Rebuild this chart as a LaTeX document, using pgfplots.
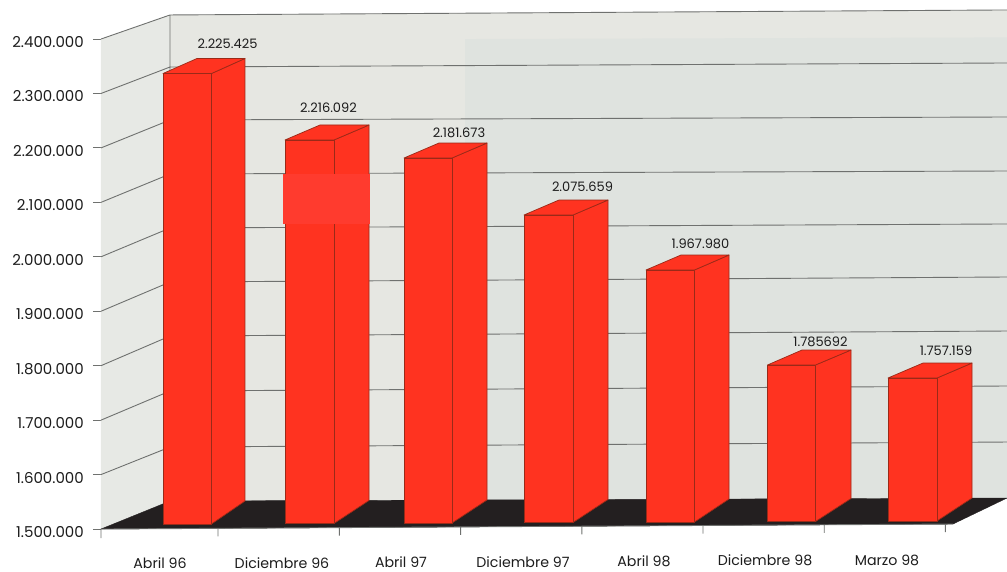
\documentclass[border=0pt]{standalone}
\usepackage{pgfplots}
\pgfplotsset{compat=1.18}
\usepackage{fontspec}
\setmainfont{Poppins}
\definecolor{wallside}{HTML}{E7E9E5}
\definecolor{wallback}{HTML}{E6E7E2}
\definecolor{wallinner}{HTML}{DFE3DF}
\definecolor{gridc}{HTML}{6F716F}
\definecolor{barface}{HTML}{FF3320}
\definecolor{barpatch}{HTML}{FF3B2E}
\definecolor{baredge}{HTML}{9A2A18}
\definecolor{floorc}{HTML}{231F20}
\definecolor{textc}{HTML}{1C1C1C}
\pgfplotsset{
  face/.style={fill=barface, draw=baredge, line width=0.7pt, line join=round, forget plot},
  wall/.style={draw=none, forget plot},
  textrow/.style={draw=none, mark=none, forget plot, point meta=explicit symbolic, nodes near coords,
    nodes near coords style={anchor=center, inner sep=0pt, text=textc, font=#1}},
}
% x in picture columns, y in the units of the left axis
% bar heights are read off the picture (the first bar stands higher than its printed label)
\pgfplotstableread{
x y label
227.5 2390900 2.225.425
328.5 2273300 2.216.092
459 2227400 2.181.673
582.5 2128200 2.075.659
700.5 2023500 1.967.980
820.5 1843500 1.785692
946 1827000 1.757.159
}\valuelabels
\pgfplotstableread{
x y label
160 1437500 {Abril 96}
282 1437500 {Diciembre 96}
401 1439400 {Abril 97}
523 1439400 {Diciembre 97}
644 1441200 {Abril 98}
765 1441800 {Diciembre 98}
887 1443100 {Marzo 98}
}\monthlabels
\begin{document}
\begin{tikzpicture}
\begin{axis}[
  scale only axis, width=906pt, height=490pt,
  xmin=101, xmax=1007, ymin=1500000, ymax=2400000,
  clip=false,
  axis y line=left, axis x line=none,
  axis line style={-, draw=gridc, line width=0.9pt},
  ytick={1500000,1600000,1700000,1800000,1900000,2000000,2100000,2200000,2300000,2400000},
  tick align=outside, major tick length=8pt,
  tick style={draw=gridc, line width=0.9pt},
  yticklabel style={text=textc, font=\fontsize{15}{17}\selectfont, yshift=-3pt, inner sep=0pt, xshift=-9pt,
    /pgf/number format/.cd, fixed, precision=0, 1000 sep={.}, assume math mode=true},
  scaled y ticks=false,
  unbounded coords=jump,
]
% walls
\addplot[wall, fill=wallside] coordinates {(101,2400000)(170,2444200)(170,1551400)(101,1500000)} -- cycle;
\addplot[wall, fill=wallback] coordinates {(170,2444200)(1007,2453400)(1007,1556900)(170,1551400)} -- cycle;
\addplot[wall, fill=wallinner] coordinates {(465,2400000)(1007,2403000)(1007,1556900)(465,1553000)} -- cycle;
% gridlines round the two walls
\addplot[draw=gridc, line width=0.9pt, forget plot] coordinates {
  (101,2400000)(170,2444200)(1007,2453400)(1007,nan)
  (101,2300000)(170,2348600)(1007,2356000)(1007,nan)
  (101,2200000)(170,2251300)(1007,2256800)(1007,nan)
  (101,2100000)(170,2152100)(1007,2157600)(1007,nan)
  (101,2000000)(170,2052900)(1007,2060300)(1007,nan)
  (101,1900000)(170,1953700)(1007,1962900)(1007,nan)
  (101,1800000)(170,1854500)(1007,1863700)(1007,nan)
  (101,1700000)(170,1753500)(1007,1762700)(1007,nan)
  (101,1600000)(170,1650600)(1007,1659800)(1007,nan)
  (170,2444200)(170,1551400)
};
% floor
\addplot[fill=floorc, draw=floorc, forget plot] coordinates {(101,1500000)(953,1509200)(1007,1556900)(170,1551400)} -- cycle;
\addplot[draw=gridc, line width=0.9pt, forget plot] coordinates {
  (101,1500000)(953,1509200)(953,nan)
  (101,1500000)(101,1483500)(101,nan)
  (218,1501300)(218,1486600)(218,nan)
  (339.4,1502600)(339.4,1487900)(339.4,nan)
  (460.6,1503900)(460.6,1489200)(460.6,nan)
  (581.8,1505100)(581.8,1490400)(581.8,nan)
  (703,1506400)(703,1491700)(703,nan)
  (824.2,1507700)(824.2,1493000)(824.2,nan)
  (945.4,1509200)(945.4,1494500)
};
% Abril 96
\addplot[face] coordinates {(211.5,2336700)(245,2364300)(245,1551400)(211.5,1509200)} -- cycle;
\addplot[face] coordinates {(163,2336700)(197,2364300)(245,2364300)(211.5,2336700)} -- cycle;
\addplot[face] coordinates {(163,2336700)(211.5,2336700)(211.5,1509200)(163,1509200)} -- cycle;
% Diciembre 96
\addplot[face] coordinates {(334,2214600)(369,2242100)(369,1552400)(334,1510100)} -- cycle;
\addplot[face] coordinates {(285,2214600)(320,2242100)(369,2242100)(334,2214600)} -- cycle;
\addplot[face] coordinates {(285,2214600)(334,2214600)(334,1510100)(285,1510100)} -- cycle;
\addplot[fill=barpatch, draw=none, forget plot] coordinates {(283,2152100)(370,2152100)(370,2060300)(283,2060300)} -- cycle;
% Abril 97
\addplot[face] coordinates {(452,2181500)(487,2209000)(487,1553300)(452,1511000)} -- cycle;
\addplot[face] coordinates {(404,2181500)(439,2209000)(487,2209000)(452,2181500)} -- cycle;
\addplot[face] coordinates {(404,2181500)(452,2181500)(452,1511000)(404,1511000)} -- cycle;
% Diciembre 97
\addplot[face] coordinates {(573,2076800)(608,2104300)(608,1554200)(573,1511900)} -- cycle;
\addplot[face] coordinates {(524,2076800)(559,2104300)(608,2104300)(573,2076800)} -- cycle;
\addplot[face] coordinates {(524,2076800)(573,2076800)(573,1511900)(524,1511900)} -- cycle;
% Abril 98
\addplot[face] coordinates {(694.5,1975800)(729,2003300)(729,1555100)(694.5,1512900)} -- cycle;
\addplot[face] coordinates {(646,1975800)(681,2003300)(729,2003300)(694.5,1975800)} -- cycle;
\addplot[face] coordinates {(646,1975800)(694.5,1975800)(694.5,1512900)(646,1512900)} -- cycle;
% Diciembre 98
\addplot[face] coordinates {(815.5,1801300)(851,1828800)(851,1556000)(815.5,1513800)} -- cycle;
\addplot[face] coordinates {(767.5,1801300)(802,1828800)(851,1828800)(815.5,1801300)} -- cycle;
\addplot[face] coordinates {(767.5,1801300)(815.5,1801300)(815.5,1513800)(767.5,1513800)} -- cycle;
% Marzo 98
\addplot[face] coordinates {(937,1777400)(972,1804900)(972,1556900)(937,1514700)} -- cycle;
\addplot[face] coordinates {(888,1777400)(923,1804900)(972,1804900)(937,1777400)} -- cycle;
\addplot[face] coordinates {(888,1777400)(937,1777400)(937,1514700)(888,1514700)} -- cycle;
% text
\addplot[textrow={\fontsize{13}{15}\selectfont}] table[x=x, y=y, meta=label] {\valuelabels};
\addplot[textrow={\fontsize{14.2}{16}\selectfont}] table[x=x, y=y, meta=label] {\monthlabels};
\coordinate (pa) at (axis cs:0,2471700);
\coordinate (pb) at (axis cs:1007,1422900);
\end{axis}
\pgfresetboundingbox
\path (pa) rectangle (pb);
\end{tikzpicture}
\end{document}
